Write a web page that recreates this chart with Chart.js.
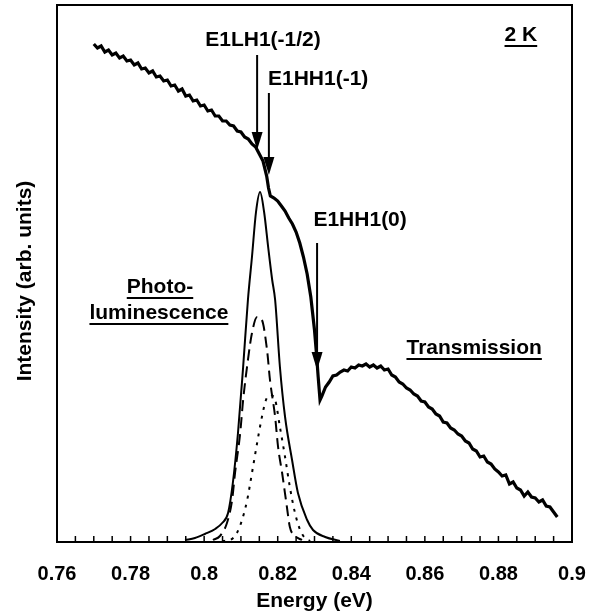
<!DOCTYPE html>
<html>
<head>
<meta charset="utf-8">
<script src="https://cdn.jsdelivr.net/npm/chart.js@4.4.1/dist/chart.umd.min.js"></script>
<style>
html, body { margin: 0; padding: 0; background: #fff; }
#wrap { width: 596px; height: 615px; }
</style>
</head>
<body>
<div id="wrap"><canvas id="myChart" width="596" height="615"></canvas></div>
<script>
'use strict';

// x axis ticks (eV)
var tickValues = [0.76, 0.78, 0.80, 0.82, 0.84, 0.86, 0.88, 0.90];
var tickLabels = ['0.76', '0.78', '0.8', '0.82', '0.84', '0.86', '0.88', '0.9'];

// transmission trace (arb. units)
var transEnergy = [
  0.770, 0.771, 0.772, 0.773, 0.774, 0.775, 0.776, 0.777, 0.778, 0.779,
  0.780, 0.781, 0.782, 0.783, 0.784, 0.785, 0.786, 0.787, 0.788, 0.789,
  0.790, 0.791, 0.792, 0.793, 0.794, 0.795, 0.796, 0.797, 0.798, 0.799,
  0.800, 0.801, 0.802, 0.803, 0.804, 0.805, 0.806, 0.807, 0.808, 0.809,
  0.810, 0.811, 0.812, 0.813, 0.814, 0.815, 0.816, 0.817, 0.8175, 0.818, 0.819,
  0.820, 0.821, 0.822, 0.823, 0.824, 0.825, 0.826, 0.827, 0.828, 0.829,
  0.830, 0.8305, 0.831, 0.8315, 0.832, 0.833, 0.834, 0.835, 0.836, 0.837, 0.838, 0.839,
  0.840, 0.841, 0.842, 0.843, 0.844, 0.845, 0.846, 0.847, 0.848, 0.849,
  0.850, 0.851, 0.852, 0.853, 0.854, 0.855, 0.856, 0.857, 0.858, 0.859,
  0.860, 0.861, 0.862, 0.863, 0.864, 0.865, 0.866, 0.867, 0.868, 0.869,
  0.870, 0.871, 0.872, 0.873, 0.874, 0.875, 0.876, 0.877, 0.878, 0.879,
  0.880, 0.881, 0.882, 0.883, 0.884, 0.885, 0.886, 0.887, 0.888, 0.889,
  0.890, 0.891, 0.892, 0.893, 0.894, 0.895, 0.896
];
var transIntensity = [
  498, 494, 496, 490, 492, 487, 489, 484, 486, 481,
  482, 477, 479, 473, 474, 469, 471, 465, 466, 461,
  462, 456, 457, 451, 453, 446, 447, 441, 442, 436,
  437, 431, 432, 426, 426, 421, 421, 417, 416, 411,
  410, 405, 403, 398, 395, 388, 381, 366, 354, 346, 344,
  341, 336, 331, 324, 318, 310, 299, 285, 268, 245,
  212, 190, 165, 142, 146, 155, 160, 166, 167, 170, 172, 171,
  175, 174, 177, 176, 178, 175, 177, 174, 176, 172,
  173, 167, 165, 160, 158, 154, 152, 148, 146, 141,
  140, 135, 133, 128, 126, 120, 119, 114, 112, 108,
  106, 101, 99, 93, 91, 85, 86, 80, 78, 73,
  70, 66, 67, 58, 60, 54, 52, 46, 50, 45,
  44, 40, 42, 36, 35, 30, 25
];

// photoluminescence, measured
var plEnergy = [0.7948, 0.7975, 0.8002, 0.8030, 0.8049, 0.8065, 0.8078, 0.8092, 0.8106,
  0.8119, 0.8130, 0.8141, 0.8152, 0.8163, 0.8174, 0.8185, 0.8193, 0.8206, 0.8220,
  0.8239, 0.8255, 0.8280, 0.8296, 0.8329, 0.8369];
var plIntensity = [2, 4, 8, 13, 19, 29, 59, 109, 175,
  242, 285, 330, 350, 330, 295, 262, 242, 175, 125,
  82, 49, 22, 12, 5, 1];

// photoluminescence, first fitted line (dashed)
var fitAEnergy = [0.8024, 0.8043, 0.8062, 0.8076, 0.8084, 0.8098, 0.8106, 0.8119, 0.8130,
  0.8144, 0.8157, 0.8171, 0.8179, 0.8193, 0.8201, 0.8212, 0.8225, 0.8233, 0.8247, 0.8266];
var fitAIntensity = [2, 6, 19, 42, 69, 109, 142, 182, 209,
  225, 222, 192, 162, 125, 95, 69, 35, 15, 6, 2];

// photoluminescence, second fitted line (dotted)
var fitBEnergy = [0.8049, 0.8070, 0.8089, 0.8103, 0.8117, 0.8130, 0.8144, 0.8157, 0.8168,
  0.8179, 0.8193, 0.8206, 0.8220, 0.8233, 0.8247, 0.8261, 0.8274, 0.8288];
var fitBIntensity = [1, 2, 9, 22, 42, 69, 99, 125, 142,
  147, 142, 115, 85, 55, 29, 12, 4, 1];

// arrows: energy, start and tip height
var arrows = [
  { x: 0.8144, from: 487, to: 392 },
  { x: 0.8176, from: 449, to: 367 },
  { x: 0.8307, from: 299, to: 172 }
];

// text labels placed in data units
var notes = [
  { text: 'E1LH1(-1/2)', x: 0.8160, y: 502, line: false },
  { text: 'E1HH1(-1)', x: 0.8310, y: 463, line: false },
  { text: 'E1HH1(0)', x: 0.8424, y: 322, line: false },
  { text: '2 K', x: 0.8861, y: 507, line: true },
  { text: 'Photo-', x: 0.7880, y: 255, line: true },
  { text: 'luminescence', x: 0.7877, y: 229, line: true },
  { text: 'Transmission', x: 0.8734, y: 194, line: true }
];

var FONT = '"Liberation Sans", Arial, Helvetica, sans-serif';

function pairs(xs, ys) {
  return xs.map(function (x, i) { return { x: x, y: ys[i] }; });
}

var decor = {
  id: 'decor',
  afterDatasetsDraw: function (chart) {
    var ctx = chart.ctx, a = chart.chartArea;
    var xs = chart.scales.x, ys = chart.scales.y;
    ctx.save();
    ctx.strokeStyle = '#000';
    ctx.fillStyle = '#000';

    // frame
    ctx.lineWidth = 2;
    ctx.strokeRect(a.left, a.top, a.right - a.left, a.bottom - a.top);

    // inward ticks every 0.005 eV
    ctx.lineWidth = 1.5;
    for (var i = 0; i <= 28; i++) {
      var px = xs.getPixelForValue(0.76 + i * 0.005);
      ctx.beginPath();
      ctx.moveTo(px, a.bottom);
      ctx.lineTo(px, a.bottom - 6);
      ctx.stroke();
    }

    // arrows
    arrows.forEach(function (ar) {
      var x = xs.getPixelForValue(ar.x);
      var y0 = ys.getPixelForValue(ar.from);
      var y1 = ys.getPixelForValue(ar.to);
      ctx.lineWidth = 2;
      ctx.beginPath();
      ctx.moveTo(x, y0);
      ctx.lineTo(x, y1 - 14);
      ctx.stroke();
      ctx.beginPath();
      ctx.moveTo(x - 5.5, y1 - 18);
      ctx.lineTo(x + 5.5, y1 - 18);
      ctx.lineTo(x, y1);
      ctx.closePath();
      ctx.fill();
    });

    // labels
    ctx.font = 'bold 21px ' + FONT;
    ctx.textAlign = 'center';
    ctx.textBaseline = 'middle';
    notes.forEach(function (n) {
      var x = xs.getPixelForValue(n.x);
      var y = ys.getPixelForValue(n.y);
      ctx.fillText(n.text, x, y);
      if (n.line) {
        var w = ctx.measureText(n.text).width;
        ctx.lineWidth = 2;
        ctx.beginPath();
        ctx.moveTo(x - w / 2, y + 11);
        ctx.lineTo(x + w / 2, y + 11);
        ctx.stroke();
      }
    });

    // y axis title
    ctx.font = 'bold 21px ' + FONT;
    ctx.translate(25, 281);
    ctx.rotate(-Math.PI / 2);
    ctx.fillText('Intensity (arb. units)', 0, 0);
    ctx.restore();
  }
};

var ctx = document.getElementById('myChart').getContext('2d');

var chart = new Chart(ctx, {
  type: 'line',
  data: {
    datasets: [{
      label: 'Transmission',
      data: pairs(transEnergy, transIntensity),
      borderColor: '#000',
      borderWidth: 3.2,
      pointRadius: 0,
      tension: 0
    },
    {
      label: 'Photoluminescence',
      data: pairs(plEnergy, plIntensity),
      borderColor: '#000',
      borderWidth: 2,
      pointRadius: 0,
      cubicInterpolationMode: 'monotone'
    },
    {
      label: 'Fit 1',
      data: pairs(fitAEnergy, fitAIntensity),
      borderColor: '#000',
      borderWidth: 2,
      borderDash: [11, 6],
      pointRadius: 0,
      cubicInterpolationMode: 'monotone'
    },
    {
      label: 'Fit 2',
      data: pairs(fitBEnergy, fitBIntensity),
      borderColor: '#000',
      borderWidth: 2,
      borderDash: [3, 6],
      pointRadius: 0,
      cubicInterpolationMode: 'monotone'
    }]
  },
  options: {
    responsive: false,
    animation: false,
    devicePixelRatio: 1,
    layout: { padding: { left: 57, right: 24, top: 5, bottom: 0 } },
    plugins: {
      legend: { display: false },
      tooltip: { enabled: false }
    },
    scales: {
      x: {
        type: 'linear',
        min: 0.76,
        max: 0.9,
        afterBuildTicks: function (s) {
          s.ticks = tickValues.map(function (v) { return { value: v }; });
        },
        afterFit: function (s) {
          s.height = 73;
          s.paddingLeft = 0;
          s.paddingRight = 0;
        },
        grid: { display: false, drawTicks: false },
        border: { display: false },
        ticks: {
          padding: 20,
          color: '#000',
          font: { family: FONT, size: 20, weight: 'bold' },
          maxRotation: 0,
          callback: function (v, i) { return tickLabels[i]; }
        },
        title: {
          display: true,
          text: 'Energy (eV)',
          color: '#000',
          font: { family: FONT, size: 21, weight: 'bold' },
          padding: { top: 0, bottom: 1 }
        }
      },
      y: {
        display: false,
        min: 0,
        max: 537
      }
    }
  },
  plugins: [decor]
});
</script>
</body>
</html>
